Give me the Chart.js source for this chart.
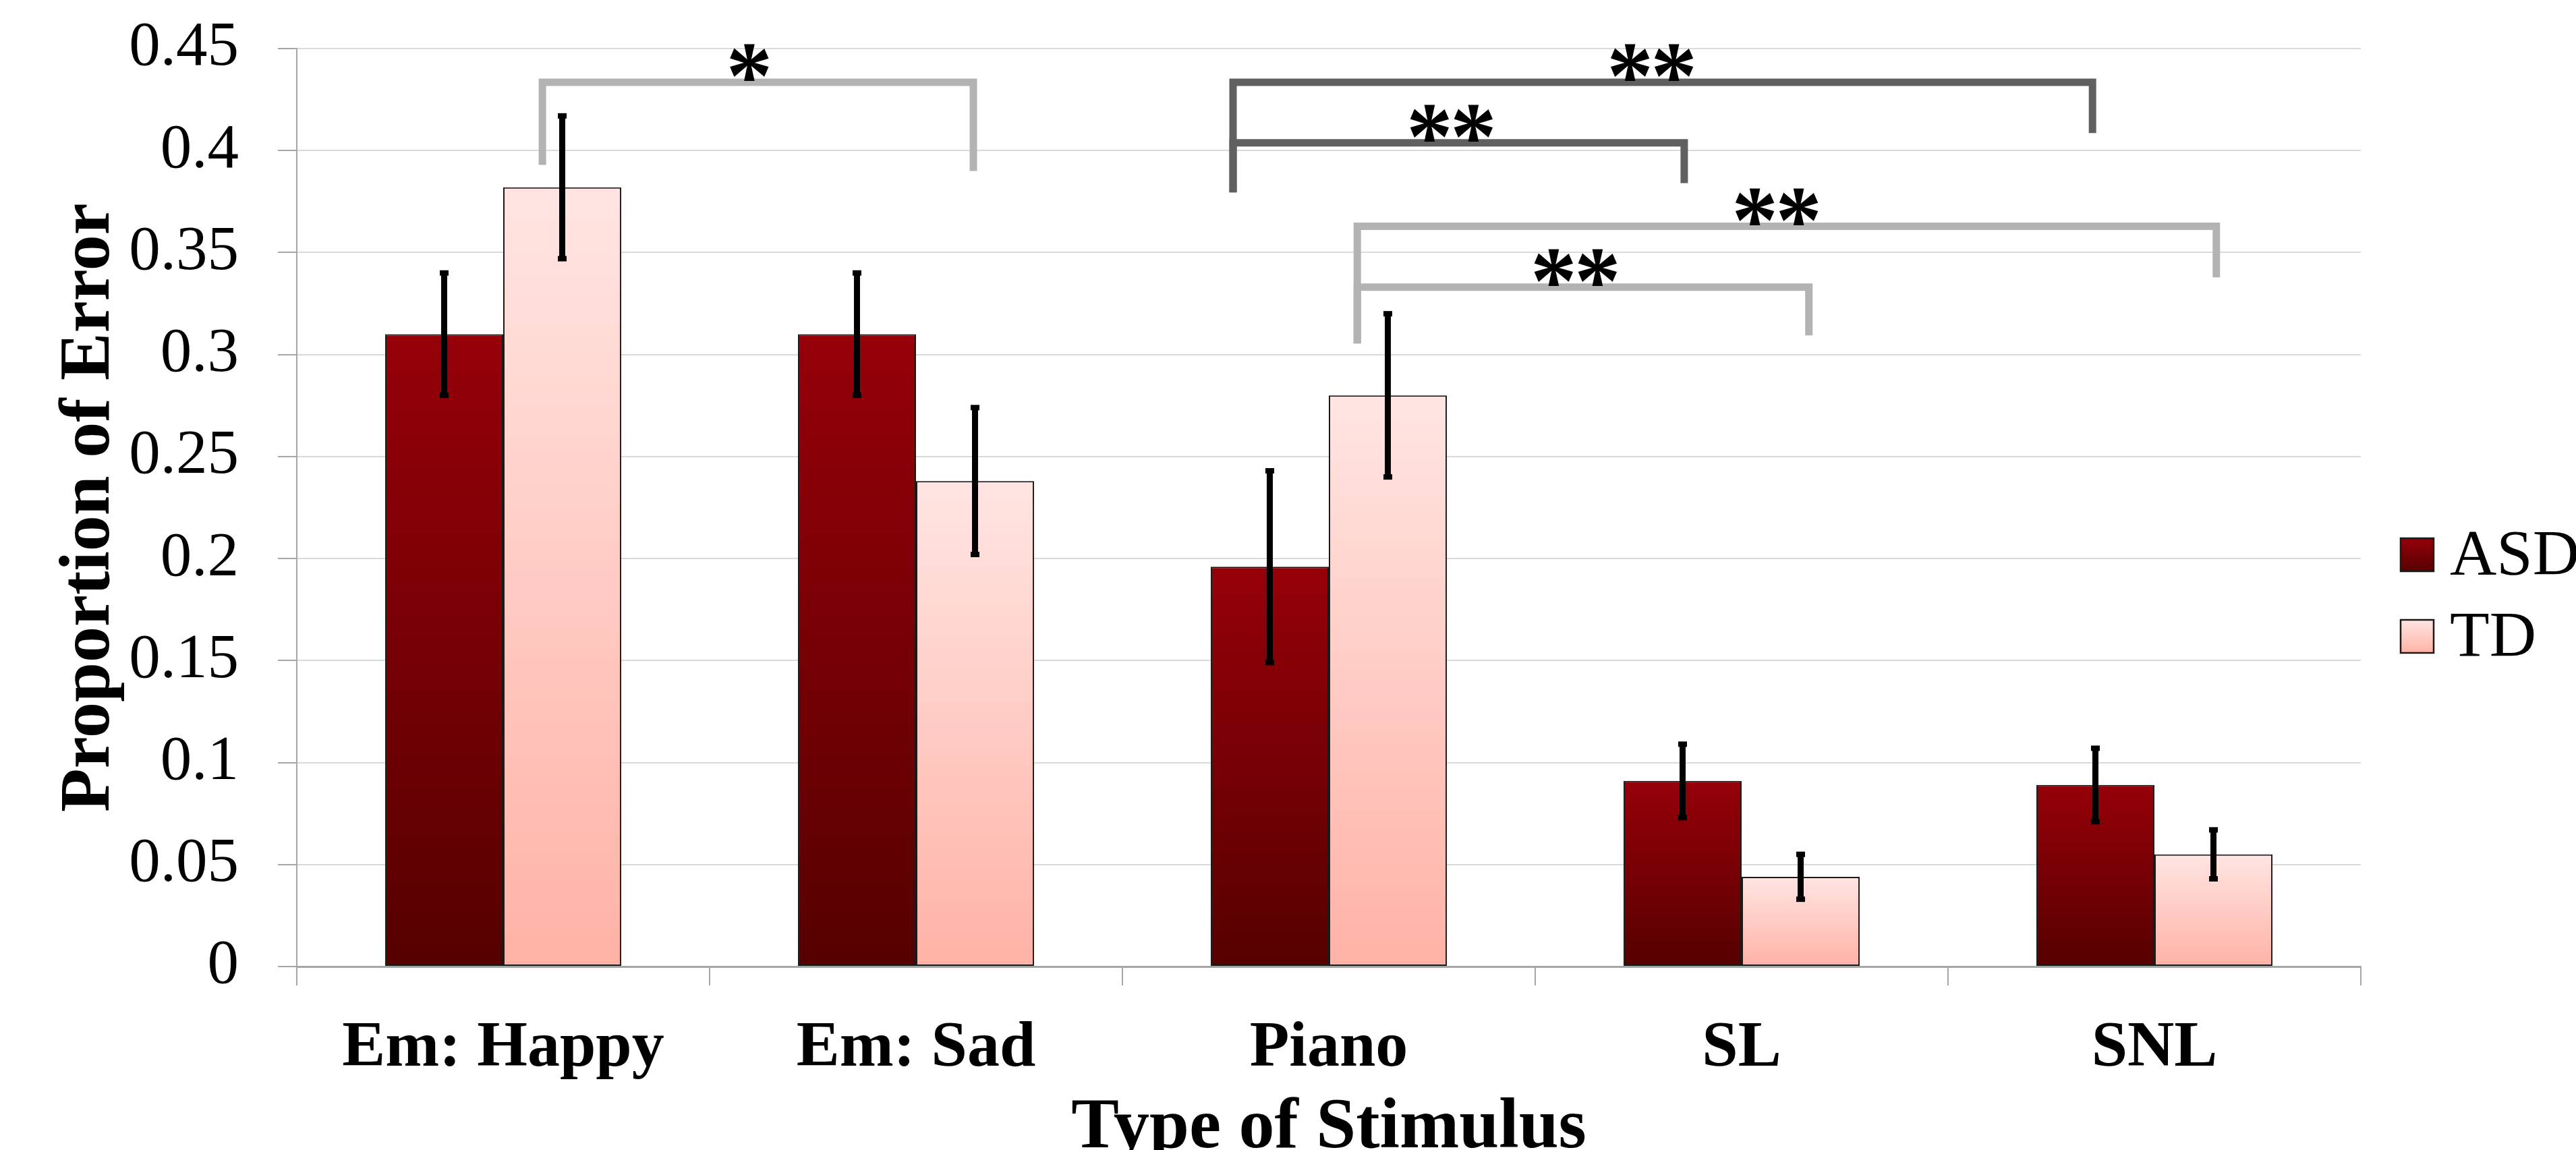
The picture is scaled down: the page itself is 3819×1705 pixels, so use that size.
<!DOCTYPE html>
<html><head><meta charset="utf-8">
<script src="https://cdn.jsdelivr.net/npm/chart.js@4.4.1/dist/chart.umd.min.js"></script>
<style>html,body{margin:0;padding:0;background:#fff;overflow:hidden}#wrap{width:3819px;height:1705px;position:relative}</style>
</head><body><div id="wrap"><canvas id="c" width="3819" height="1705"></canvas></div>
<script>
// ---------- data ----------
const categories = ['Em: Happy', 'Em: Sad', 'Piano', 'SL', 'SNL'];
const seriesNames = ['ASD', 'TD'];
const asdValues = [0.310, 0.310, 0.196, 0.091, 0.089];
const tdValues  = [0.382, 0.238, 0.280, 0.044, 0.055];
const asdErrors = [0.030, 0.030, 0.047, 0.018, 0.018];
const tdErrors  = [0.035, 0.036, 0.040, 0.011, 0.012];
const yTickValues = [0, 0.05, 0.1, 0.15, 0.2, 0.25, 0.3, 0.35, 0.4, 0.45];
const yTickLabels = ['0', '0.05', '0.1', '0.15', '0.2', '0.25', '0.3', '0.35', '0.4', '0.45'];
const xAxisTitle = 'Type of Stimulus';
const yAxisTitle = 'Proportion of Error';
// significance brackets (x in category-index units, y in data units)
const bracketLabels = ['*', '**', '**', '**', '**'];
const bracketX1 = [0.095, 1.768, 1.768, 2.069, 2.069];
const bracketX2 = [1.139, 3.850, 2.861, 4.150, 3.163];
const bracketY  = [0.4335, 0.4335, 0.4038, 0.3629, 0.3330];
const bracketLeftEnd  = [0.393, 0.3795, 0.3795, 0.3054, 0.3054];
const bracketRightEnd = [0.390, 0.4086, 0.384, 0.3378, 0.3094];
const bracketLabelX = [0.596, 2.783, 2.297, 3.085, 2.598];
const bracketTone = ['light', 'dark', 'dark', 'light', 'light'];

// ---------- styles ----------
const SERIF = "'Liberation Serif', 'Times New Roman', serif";
const asdStops = ['#960009', '#560000'];
const tdStops = ['#ffe5e2', '#ffb2a6'];
const toneColor = { light: '#b3b3b3', dark: '#606060' };

function barGradient(stops) {
  return function (ctx) {
    const chart = ctx.chart;
    if (!chart.chartArea || ctx.type !== 'data' || !ctx.parsed) return stops[0];
    const ys = chart.scales.y;
    const top = ys.getPixelForValue(ctx.parsed.y);
    const bottom = ys.getPixelForValue(0);
    if (!isFinite(top) || !isFinite(bottom) || Math.abs(bottom - top) < 1) return stops[0];
    const g = chart.ctx.createLinearGradient(0, top, 0, bottom);
    g.addColorStop(0, stops[0]);
    g.addColorStop(1, stops[1]);
    return g;
  };
}

const errorBarPlugin = {
  id: 'errorBars',
  afterDatasetsDraw(chart) {
    const ctx = chart.ctx;
    const ys = chart.scales.y;
    chart.data.datasets.forEach((ds, di) => {
      const meta = chart.getDatasetMeta(di);
      meta.data.forEach((bar, i) => {
        const v = ds.data[i], e = ds.errors[i];
        const yTop = ys.getPixelForValue(v + e);
        const yBot = ys.getPixelForValue(v - e);
        const x = bar.x;
        ctx.save();
        ctx.fillStyle = '#000';
        ctx.fillRect(x - 4.5, yTop, 9, yBot - yTop);
        ctx.fillRect(x - 6.5, yTop - 4, 13, 8);
        ctx.fillRect(x - 6.5, yBot - 4, 13, 8);
        ctx.restore();
      });
    });
  }
};

const STAR_H = 55, STAR_PITCH = 65;
const bracketPlugin = {
  id: 'brackets',
  afterDatasetsDraw(chart) {
    const ctx = chart.ctx;
    const xs = chart.scales.x, ys = chart.scales.y;
    for (let i = 0; i < bracketLabels.length; i++) {
      const x1 = xs.getPixelForValue(bracketX1[i]);
      const x2 = xs.getPixelForValue(bracketX2[i]);
      const y = ys.getPixelForValue(bracketY[i]);
      const yl = ys.getPixelForValue(bracketLeftEnd[i]);
      const yr = ys.getPixelForValue(bracketRightEnd[i]);
      ctx.save();
      ctx.strokeStyle = toneColor[bracketTone[i]];
      ctx.lineWidth = 11;
      ctx.lineJoin = 'miter';
      ctx.lineCap = 'butt';
      ctx.beginPath();
      ctx.moveTo(x1, yl);
      ctx.lineTo(x1, y);
      ctx.lineTo(x2, y);
      ctx.lineTo(x2, yr);
      ctx.stroke();
      // label: each asterisk drawn as text, scaled to the reference glyph size
      const label = bracketLabels[i];
      ctx.font = 'bold 100px ' + SERIF;
      const m0 = ctx.measureText('*');
      const h0 = m0.actualBoundingBoxAscent + m0.actualBoundingBoxDescent;
      const size = 100 * STAR_H / h0;
      ctx.font = 'bold ' + size.toFixed(1) + 'px ' + SERIF;
      const m = ctx.measureText('*');
      ctx.fillStyle = '#000';
      ctx.textAlign = 'center';
      ctx.textBaseline = 'alphabetic';
      const cy = y - 29;
      const base = cy + (m.actualBoundingBoxAscent - m.actualBoundingBoxDescent) / 2;
      const cx = xs.getPixelForValue(bracketLabelX[i]);
      const n = label.length;
      for (let k = 0; k < n; k++) {
        const sx = cx + (k - (n - 1) / 2) * STAR_PITCH;
        ctx.save();
        ctx.translate(sx, base);
        ctx.scale(0.95, 1);
        ctx.fillText(label[k], 0, 0);
        ctx.restore();
      }
      ctx.restore();
    }
  }
};

const legendPlugin = {
  id: 'customLegend',
  afterDraw(chart) {
    const ctx = chart.ctx;
    const area = chart.chartArea;
    const stopsList = [asdStops, tdStops];
    chart.data.datasets.forEach((ds, i) => {
      const bx = area.right + 59;
      const by = area.top + 726 + i * 121;
      const g = ctx.createLinearGradient(0, by, 0, by + 49);
      g.addColorStop(0, stopsList[i][0]);
      g.addColorStop(1, stopsList[i][1]);
      ctx.save();
      ctx.fillStyle = g;
      ctx.fillRect(bx, by, 49, 49);
      ctx.strokeStyle = '#1a1a1a';
      ctx.lineWidth = 2.5;
      ctx.strokeRect(bx, by, 49, 49);
      ctx.font = '96px ' + SERIF;
      ctx.fillStyle = '#000';
      ctx.textAlign = 'left';
      ctx.textBaseline = 'alphabetic';
      ctx.fillText(ds.label, bx + 73, by + 54);
      ctx.restore();
    });
  }
};

new Chart(document.getElementById('c'), {
  type: 'bar',
  data: {
    labels: categories,
    datasets: [
      { label: seriesNames[0], data: asdValues, errors: asdErrors, backgroundColor: barGradient(asdStops),
        borderColor: '#1a1a1a', borderWidth: 2, borderSkipped: false,
        barPercentage: 1.0, categoryPercentage: 0.572 },
      { label: seriesNames[1], data: tdValues, errors: tdErrors, backgroundColor: barGradient(tdStops),
        borderColor: '#1a1a1a', borderWidth: 2, borderSkipped: false,
        barPercentage: 1.0, categoryPercentage: 0.572 }
    ]
  },
  options: {
    responsive: false,
    animation: false,
    devicePixelRatio: 1,
    layout: { autoPadding: false, padding: { top: 72, right: 319, bottom: 0, left: 0 } },
    plugins: { legend: { display: false }, tooltip: { enabled: false }, title: { display: false } },
    scales: {
      x: {
        ticks: { font: { family: SERIF, size: 96, weight: 'bold', lineHeight: 1 }, color: '#000',
                 padding: 46, maxRotation: 0, autoSkip: false },
        grid: { drawOnChartArea: false, tickLength: 28, color: '#a6a6a6', lineWidth: 2, offset: true },
        border: { color: '#a6a6a6', width: 3 },
        title: { display: true, text: xAxisTitle, color: '#000',
                 font: { family: SERIF, size: 106, weight: 'bold', lineHeight: 1 },
                 padding: { top: 0, bottom: -22 } },
        afterFit: (s) => { s.height = 272; s.paddingLeft = 0; s.paddingRight = 0; }
      },
      y: {
        min: 0, max: 0.45,
        afterBuildTicks: (s) => { s.ticks = yTickValues.map(v => ({ value: v })); },
        ticks: {
          callback: (value) => {
            const k = yTickValues.findIndex(t => Math.abs(t - value) < 1e-9);
            return k >= 0 ? yTickLabels[k] : '';
          },
          font: { family: SERIF, size: 93, lineHeight: 1 }, color: '#000', padding: 58
        },
        grid: { color: '#dadada', lineWidth: 2, tickColor: '#a6a6a6', tickLength: 28, tickWidth: 2 },
        border: { color: '#a6a6a6', width: 2 },
        title: { display: true, text: yAxisTitle, color: '#000',
                 font: { family: SERIF, size: 106, weight: 'bold', lineHeight: 1 },
                 padding: { top: 81, bottom: 0 } },
        afterFit: (s) => { s.width = 440; s.paddingTop = 0; s.paddingBottom = 0; }
      }
    }
  },
  plugins: [errorBarPlugin, bracketPlugin, legendPlugin]
});
</script></body></html>
